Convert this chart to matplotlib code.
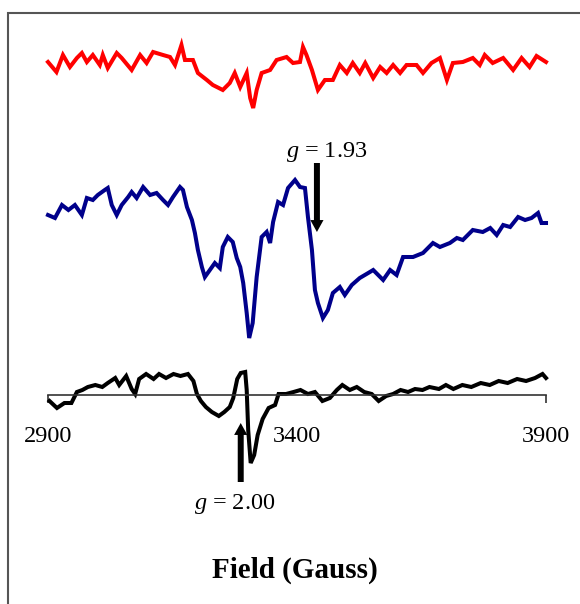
import matplotlib
matplotlib.use("Agg")
import matplotlib.pyplot as plt
from matplotlib.patches import Rectangle

plt.rcParams['font.family'] = ['Liberation Serif', 'DejaVu Serif']
plt.rcParams['mathtext.fontset'] = 'custom'
plt.rcParams['mathtext.rm'] = 'Liberation Serif'
plt.rcParams['mathtext.it'] = 'Liberation Serif:italic'

# field values (Gauss) and signal amplitudes (arb. units)
red_field = [2900, 2917, 2930, 2944, 2958, 2968, 2978, 2990, 3004, 3010,
             3020, 3038, 3048, 3068, 3085, 3098, 3111, 3131, 3145, 3155,
             3168, 3175, 3191, 3201, 3219, 3231, 3251, 3265, 3275, 3286,
             3299, 3306, 3312, 3319, 3329, 3346, 3359, 3379, 3392, 3406,
             3412, 3419, 3430, 3442, 3456, 3472, 3486, 3500, 3512, 3526,
             3537, 3553, 3567, 3580, 3593, 3607, 3620, 3640, 3653, 3670,
             3687, 3701, 3713, 3733, 3753, 3767, 3777, 3793, 3814, 3834,
             3851, 3867, 3881, 3900]
red_signal = [0, -10, 7, -5, 4, 9, 0, 7, -3, 7,
              -6, 9, 4, -8, 7, -1, 10, 7, 5, -3,
              17, 2, 2, -11, -18, -23, -28, -21, -11, -25,
              -11, -36, -46, -28, -11, -8, 2, 5, -1, 0,
              15, 7, -8, -28, -18, -18, -3, -11, -1, -11,
              -1, -16, -5, -11, -3, -11, -3, -3, -11, -1,
              4, -18, -1, 0, 4, -3, 7, -1, 4, -8,
              4, -5, 6, 0]

blue_field = [2900, 2914, 2928, 2941, 2954, 2968, 2978, 2990, 3000, 3014,
              3020, 3028, 3038, 3048, 3061, 3068, 3078, 3091, 3105, 3118,
              3131, 3141, 3151, 3165, 3171, 3179, 3189, 3195, 3201, 3209,
              3215, 3225, 3235, 3245, 3251, 3261, 3271, 3279, 3286, 3292,
              3299, 3304, 3311, 3319, 3329, 3339, 3346, 3352, 3362, 3372,
              3382, 3396, 3406, 3416, 3422, 3430, 3436, 3442, 3452, 3462,
              3472, 3486, 3496, 3510, 3526, 3543, 3553, 3573, 3587, 3600,
              3613, 3633, 3653, 3673, 3687, 3707, 3721, 3733, 3753, 3773,
              3788, 3801, 3814, 3828, 3844, 3858, 3871, 3884, 3891, 3900]
blue_signal = [0, -3, 10, 5, 10, 0, 17, 15, 20, 25,
               27, 10, 0, 10, 18, 23, 17, 28, 20, 22,
               15, 10, 18, 28, 25, 8, -5, -18, -35, -52,
               -62, -55, -48, -53, -32, -22, -27, -43, -52, -68,
               -98, -123, -108, -62, -22, -17, -28, -7, 13, 10,
               27, 35, 28, 27, -2, -35, -75, -88, -103, -95,
               -78, -72, -80, -70, -63, -58, -55, -65, -55, -60,
               -42, -42, -38, -28, -32, -28, -23, -25, -15, -17,
               -13, -20, -10, -12, -2, -5, -3, 2, -8, -8]

black_field = [2903, 2918, 2933, 2947, 2958, 2969, 2980, 2995, 3009, 3020,
               3035, 3043, 3057, 3068, 3075, 3083, 3097, 3112, 3123, 3137,
               3152, 3166, 3181, 3192, 3199, 3207, 3217, 3229, 3243, 3254,
               3265, 3272, 3280, 3287, 3296, 3299, 3302, 3307, 3314, 3321,
               3331, 3343, 3356, 3363, 3378, 3393, 3407, 3422, 3436, 3451,
               3466, 3480, 3491, 3506, 3520, 3535, 3550, 3564, 3579, 3593,
               3608, 3623, 3637, 3652, 3666, 3685, 3699, 3714, 3732, 3750,
               3769, 3787, 3805, 3823, 3842, 3860, 3878, 3893, 3900]
black_signal = [-6, -13, -8, -8, 3, 5, 8, 10, 8, 12,
                17, 10, 19, 6, 1, 16, 21, 16, 21, 17,
                21, 19, 21, 14, 1, -6, -12, -17, -21, -17,
                -12, -3, 16, 22, 23, 5, -35, -68, -60, -40,
                -24, -13, -10, 1, 1, 3, 5, 1, 3, -6,
                -3, 5, 10, 5, 8, 3, 1, -6, -1, 1,
                5, 3, 6, 5, 8, 6, 10, 6, 10, 8,
                12, 10, 14, 12, 16, 14, 17, 21, 17]

# vertical offsets of the stacked traces
red_offset = 333
blue_offset = 180
black_offset = 0

tick_values = [2900, 3400, 3900]
tick_labels = ["2900", "3400", "3900"]

fig = plt.figure(figsize=(5.8, 6.04), dpi=100)
ax = fig.add_axes([48 / 580, 1 - 520 / 604, 498 / 580, 500 / 604])

ax.plot(red_field, [v + red_offset for v in red_signal], color='#ff0000', lw=2.9,
        solid_joinstyle='miter', clip_on=False)
ax.plot(blue_field, [v + blue_offset for v in blue_signal], color='#00008b', lw=2.9,
        solid_joinstyle='miter', clip_on=False)
ax.plot(black_field, [v + black_offset for v in black_signal], color='black', lw=2.9,
        solid_joinstyle='miter', clip_on=False)

ax.set_xlim(2900, 3900)
ax.set_ylim(-125, 375)

# x axis runs through the baseline of the bottom trace
for s in ['top', 'right', 'left']:
    ax.spines[s].set_visible(False)
ax.spines['bottom'].set_position(('data', 0))
ax.spines['bottom'].set_color('#333333')
ax.spines['bottom'].set_linewidth(1.2)
ax.set_yticks([])
ax.set_xticks(tick_values)
ax.set_xticklabels(tick_labels)
ax.tick_params(axis='x', direction='out', length=5.5, width=1.2, color='#333333',
               pad=17, labelsize=17.5)
ax.xaxis.get_major_ticks()[1].tick1line.set_visible(False)

# g-value markers
arrow_kw = dict(facecolor='black', edgecolor='black', lw=0, width=4.3,
                headwidth=9.5, headlength=8.6, shrink=0)
ax.annotate('', xy=(3440, 163), xytext=(3440, 232), arrowprops=arrow_kw,
            annotation_clip=False)
ax.text(3459, 238, r'$g$ = 1.93', ha='center', va='baseline', fontsize=17.5)
ax.annotate('', xy=(3287, -28), xytext=(3287, -87), arrowprops=arrow_kw,
            annotation_clip=False)
ax.text(3275, -114, r'$g$ = 2.00', ha='center', va='baseline', fontsize=17.5)

fig.text(295 / 580, 1 - 578 / 604, 'Field (Gauss)', ha='center', va='baseline',
         fontsize=21, fontweight='bold')

# outer frame, cut off at the right and bottom like the source
frame = Rectangle((8 / 580, -0.05), 2.0, 1 - 12.5 / 604 + 0.05, transform=fig.transFigure,
                  fill=False, edgecolor='#555555', lw=1.5, clip_on=False)
fig.patches.append(frame)

fig.savefig('out.png', dpi=100)
